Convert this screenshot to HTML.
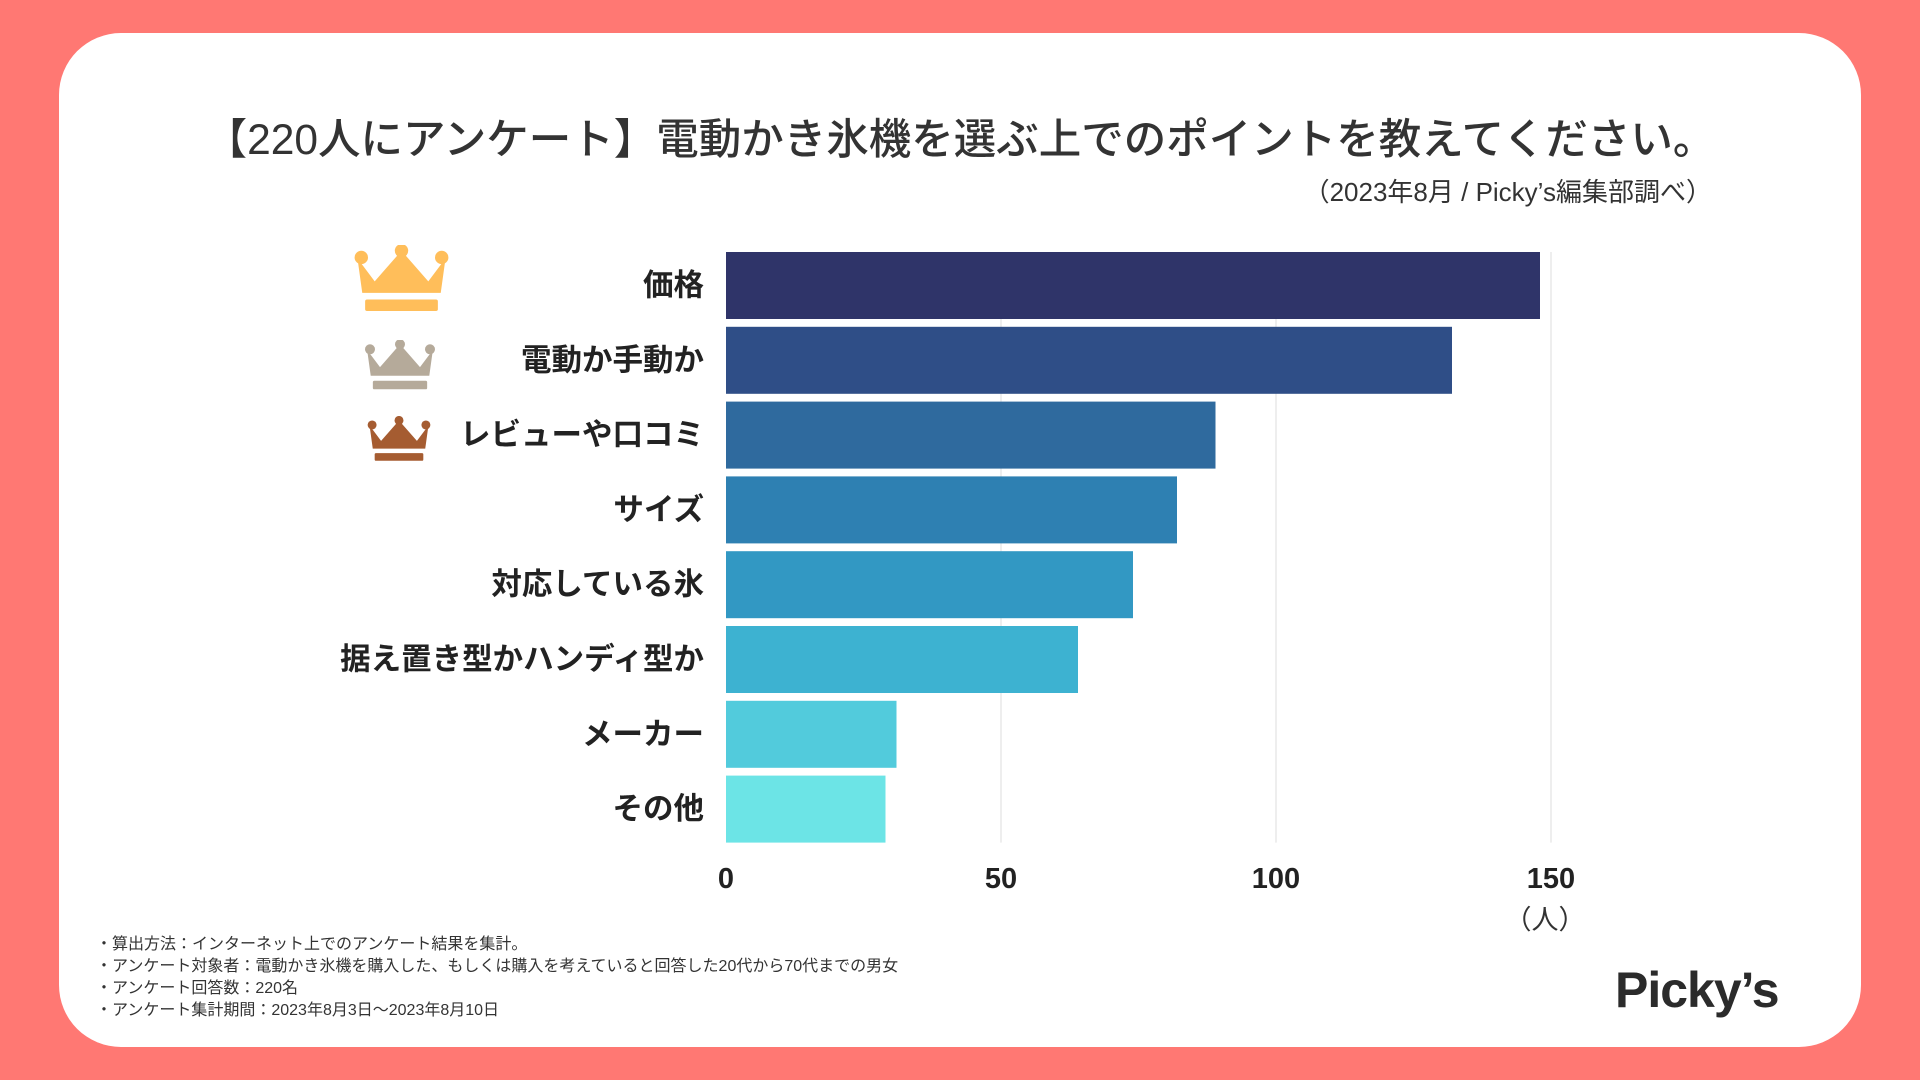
<!DOCTYPE html>
<html><head><meta charset="utf-8">
<style>
html,body{margin:0;padding:0;}
body{width:1920px;height:1080px;background:#ff7873;position:relative;overflow:hidden;font-family:"Liberation Sans","Noto Sans CJK JP",sans-serif;}
#card{position:absolute;left:59px;top:33px;width:1802px;height:1014px;background:#fff;border-radius:62px;}
.t{position:absolute;white-space:nowrap;color:#333;}
</style></head><body>
<div id="card"></div>
<div class="t" style="left:0;width:1920px;text-align:center;top:106px;font-size:42.5px;font-weight:500;">【220人にアンケート】電動かき氷機を選ぶ上でのポイントを教えてください。</div>
<div class="t" style="right:208px;top:172px;font-size:26px;">（2023年8月 / Picky’s編集部調べ）</div>
<svg id="chart" width="1920" height="1080" style="position:absolute;left:0;top:0">
<defs>
<symbol id="crown" viewBox="0 0 100 70">
<circle cx="8" cy="13" r="7"/><circle cx="50" cy="6" r="7"/><circle cx="92" cy="13" r="7"/>
<path d="M4 14 L22 38 L50 6 L78 38 L96 14 L91 50 L9 50 Z"/>
<rect x="12" y="57" width="76" height="12" rx="2"/>
</symbol>
</defs>
<g id="grid"></g><g id="bars"></g><g id="labels"></g><g id="ticks"></g>
<use href="#crown" x="353" y="245" width="97" height="67" fill="#ffbe5a"/>
<use href="#crown" x="362" y="340" width="76" height="50" fill="#b5aa9a"/>
<use href="#crown" x="367" y="416" width="64" height="46" fill="#a55c31"/>
<text x="1545" y="929" font-size="27" fill="#333" text-anchor="middle" font-family="Liberation Sans, Noto Sans CJK JP, sans-serif">（人）</text>
</svg>
<div class="t" style="left:96px;top:934px;font-size:16px;line-height:22px;color:#333;">
<div>・算出方法：インターネット上でのアンケート結果を集計。</div>
<div>・アンケート対象者：電動かき氷機を購入した、もしくは購入を考えていると回答した20代から70代までの男女</div>
<div>・アンケート回答数：220名</div>
<div>・アンケート集計期間：2023年8月3日〜2023年8月10日</div>
</div>
<div class="t" style="left:1615px;top:961px;font-size:50px;font-weight:bold;color:#2b2b2b;letter-spacing:-1px;">Picky’s</div>
<script>
const categories=["価格","電動か手動か","レビューや口コミ","サイズ","対応している氷","据え置き型かハンディ型か","メーカー","その他"];
const values=[148,132,89,82,74,64,31,29];
const tickValues=[0,50,100,150];
const tickLabels=["0","50","100","150"];
const colors=["#2f3469","#2f4e87","#2f6a9e","#2e80b2","#3298c3","#3db2d1","#52cbdc","#6ce4e6"];
const NS="http://www.w3.org/2000/svg";
const x0=726,pxPer=(1551-726)/150,top0=252,step=74.8,bh=67;
const xs=v=>x0+v*pxPer;
const ys=i=>top0+i*step;
const F="Liberation Sans, Noto Sans CJK JP, sans-serif";
function mk(tag,attrs,parent){const e=document.createElementNS(NS,tag);for(const k in attrs)e.setAttribute(k,attrs[k]);document.getElementById(parent).appendChild(e);return e;}
tickValues.forEach((t,i)=>{
  if(t>0){const g=mk("line",{x1:xs(t),x2:xs(t),y1:top0,y2:ys(categories.length-1)+bh,stroke:"#e3e3e3","stroke-width":1.2},"grid");
  
  }
  const tx=mk("text",{x:xs(t),y:888,"font-size":29,"font-weight":"bold","text-anchor":"middle",fill:"#222","font-family":F},"ticks");
  tx.textContent=tickLabels[i];
  
  
});
categories.forEach((c,i)=>{
  const r=mk("rect",{x:x0,y:ys(i),width:xs(values[i])-x0,height:bh,fill:colors[i]},"bars");
  
  
  const l=mk("text",{x:704,y:ys(i)+bh/2+10,"font-size":30.5,"font-weight":"bold","text-anchor":"end",fill:"#222","font-family":F},"labels");
  l.textContent=c;
  
  
});
</script>
</body></html>
